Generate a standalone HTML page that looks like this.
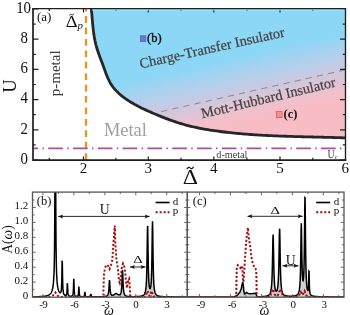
<!DOCTYPE html><html><head><meta charset="utf-8"><style>
html,body{margin:0;padding:0;background:#fff;width:350px;height:315px;overflow:hidden}
svg{display:block;will-change:transform}
text{font-family:"Liberation Serif", serif}
</style></head><body>
<svg width="350" height="315" viewBox="0 0 350 315">
<defs>
<linearGradient id="gr" gradientUnits="userSpaceOnUse" x1="241.16" y1="51.60" x2="257.74" y2="124.72">
<stop offset="0" stop-color="#8cd6f6"/>
<stop offset="0.0667" stop-color="#8cd6f6"/>
<stop offset="0.133" stop-color="#98d4f4"/>
<stop offset="0.347" stop-color="#b4d0ec"/>
<stop offset="0.533" stop-color="#ccc8e2"/>
<stop offset="0.573" stop-color="#d0c8dc"/>
<stop offset="0.8" stop-color="#f0c0cc"/>
<stop offset="0.933" stop-color="#f8bcc4"/>
<stop offset="1" stop-color="#f8bcc4"/>
</linearGradient>
<clipPath id="ca"><rect x="33.0" y="8.6" width="312.5" height="151.6"/></clipPath>
</defs>

<path d="M91.50,6.00 L91.23,8.05 L91.44,10.08 L91.64,12.12 L91.83,14.16 L92.00,16.20 L92.17,18.23 L92.34,20.27 L92.52,22.30 L92.70,24.33 L92.90,26.36 L93.11,28.39 L93.34,30.42 L93.59,32.44 L93.87,34.46 L94.19,36.48 L94.54,38.49 L94.93,40.51 L95.37,42.51 L95.85,44.52 L96.39,46.52 L96.98,48.52 L97.61,50.51 L98.28,52.50 L98.98,54.48 L99.71,56.46 L100.44,58.43 L101.18,60.39 L101.92,62.35 L102.65,64.31 L103.36,66.26 L104.06,68.20 L104.75,70.12 L105.44,72.04 L106.15,73.93 L106.89,75.79 L107.66,77.63 L108.48,79.44 L109.35,81.21 L110.30,82.94 L111.32,84.62 L112.43,86.26 L113.64,87.84 L114.92,89.38 L116.29,90.87 L117.72,92.31 L119.22,93.71 L120.78,95.06 L122.39,96.36 L124.04,97.62 L125.73,98.84 L127.45,100.02 L129.20,101.16 L130.97,102.25 L132.75,103.31 L134.54,104.34 L136.35,105.33 L138.17,106.29 L140.00,107.22 L141.84,108.13 L143.70,109.01 L145.56,109.88 L147.42,110.73 L149.30,111.57 L151.18,112.40 L153.07,113.22 L154.97,114.02 L156.87,114.82 L158.77,115.61 L160.68,116.39 L162.60,117.15 L164.52,117.90 L166.45,118.64 L168.38,119.36 L170.32,120.07 L172.26,120.76 L174.21,121.43 L176.16,122.08 L178.11,122.71 L180.08,123.33 L182.04,123.92 L184.01,124.49 L185.98,125.03 L187.96,125.56 L189.94,126.06 L191.93,126.54 L193.92,127.00 L195.91,127.44 L197.91,127.86 L199.91,128.27 L201.91,128.65 L203.92,129.02 L205.93,129.38 L207.95,129.72 L209.96,130.04 L211.98,130.35 L214.01,130.65 L216.03,130.94 L218.06,131.22 L220.09,131.49 L222.13,131.75 L224.17,132.00 L226.20,132.24 L228.25,132.47 L230.29,132.69 L232.33,132.91 L234.38,133.11 L236.43,133.31 L238.48,133.51 L240.54,133.69 L242.59,133.87 L244.65,134.04 L246.71,134.20 L248.76,134.36 L250.82,134.51 L252.89,134.65 L254.95,134.79 L257.01,134.92 L259.08,135.05 L261.14,135.17 L263.21,135.29 L265.27,135.40 L267.34,135.50 L269.41,135.61 L271.48,135.70 L273.55,135.80 L275.61,135.88 L277.68,135.97 L279.75,136.05 L281.82,136.13 L283.89,136.20 L285.95,136.27 L288.02,136.34 L290.09,136.41 L292.15,136.47 L294.22,136.53 L296.28,136.59 L298.35,136.64 L300.41,136.70 L302.47,136.75 L304.53,136.80 L306.59,136.85 L308.65,136.90 L310.71,136.95 L312.76,137.00 L314.82,137.05 L316.87,137.10 L318.92,137.15 L320.96,137.19 L323.01,137.24 L325.05,137.29 L327.10,137.34 L329.14,137.39 L331.17,137.45 L333.21,137.50 L335.24,137.56 L337.27,137.61 L339.30,137.67 L341.32,137.73 L343.34,137.80 L345.36,137.86 L346.50,137.40 L345.5,8.6 Z" fill="url(#gr)" clip-path="url(#ca)"/>
<line x1="160.7" y1="111.7" x2="345" y2="69.9" stroke="#8a8a8a" stroke-width="1" stroke-dasharray="6.2,5.2" stroke-dashoffset="-0.5"/>
<path d="M91.50,6.00 L91.23,8.05 L91.44,10.08 L91.64,12.12 L91.83,14.16 L92.00,16.20 L92.17,18.23 L92.34,20.27 L92.52,22.30 L92.70,24.33 L92.90,26.36 L93.11,28.39 L93.34,30.42 L93.59,32.44 L93.87,34.46 L94.19,36.48 L94.54,38.49 L94.93,40.51 L95.37,42.51 L95.85,44.52 L96.39,46.52 L96.98,48.52 L97.61,50.51 L98.28,52.50 L98.98,54.48 L99.71,56.46 L100.44,58.43 L101.18,60.39 L101.92,62.35 L102.65,64.31 L103.36,66.26 L104.06,68.20 L104.75,70.12 L105.44,72.04 L106.15,73.93 L106.89,75.79 L107.66,77.63 L108.48,79.44 L109.35,81.21 L110.30,82.94 L111.32,84.62 L112.43,86.26 L113.64,87.84 L114.92,89.38 L116.29,90.87 L117.72,92.31 L119.22,93.71 L120.78,95.06 L122.39,96.36 L124.04,97.62 L125.73,98.84 L127.45,100.02 L129.20,101.16 L130.97,102.25 L132.75,103.31 L134.54,104.34 L136.35,105.33 L138.17,106.29 L140.00,107.22 L141.84,108.13 L143.70,109.01 L145.56,109.88 L147.42,110.73 L149.30,111.57 L151.18,112.40 L153.07,113.22 L154.97,114.02 L156.87,114.82 L158.77,115.61 L160.68,116.39 L162.60,117.15 L164.52,117.90 L166.45,118.64 L168.38,119.36 L170.32,120.07 L172.26,120.76 L174.21,121.43 L176.16,122.08 L178.11,122.71 L180.08,123.33 L182.04,123.92 L184.01,124.49 L185.98,125.03 L187.96,125.56 L189.94,126.06 L191.93,126.54 L193.92,127.00 L195.91,127.44 L197.91,127.86 L199.91,128.27 L201.91,128.65 L203.92,129.02 L205.93,129.38 L207.95,129.72 L209.96,130.04 L211.98,130.35 L214.01,130.65 L216.03,130.94 L218.06,131.22 L220.09,131.49 L222.13,131.75 L224.17,132.00 L226.20,132.24 L228.25,132.47 L230.29,132.69 L232.33,132.91 L234.38,133.11 L236.43,133.31 L238.48,133.51 L240.54,133.69 L242.59,133.87 L244.65,134.04 L246.71,134.20 L248.76,134.36 L250.82,134.51 L252.89,134.65 L254.95,134.79 L257.01,134.92 L259.08,135.05 L261.14,135.17 L263.21,135.29 L265.27,135.40 L267.34,135.50 L269.41,135.61 L271.48,135.70 L273.55,135.80 L275.61,135.88 L277.68,135.97 L279.75,136.05 L281.82,136.13 L283.89,136.20 L285.95,136.27 L288.02,136.34 L290.09,136.41 L292.15,136.47 L294.22,136.53 L296.28,136.59 L298.35,136.64 L300.41,136.70 L302.47,136.75 L304.53,136.80 L306.59,136.85 L308.65,136.90 L310.71,136.95 L312.76,137.00 L314.82,137.05 L316.87,137.10 L318.92,137.15 L320.96,137.19 L323.01,137.24 L325.05,137.29 L327.10,137.34 L329.14,137.39 L331.17,137.45 L333.21,137.50 L335.24,137.56 L337.27,137.61 L339.30,137.67 L341.32,137.73 L343.34,137.80 L345.36,137.86 L346.50,137.40" fill="none" stroke="#262626" stroke-width="2.8" clip-path="url(#ca)"/>
<line x1="86" y1="8.6" x2="86" y2="160.2" stroke="#e8961c" stroke-width="2.3" stroke-dasharray="6.8,4.62" stroke-dashoffset="3.9"/>
<line x1="33.5" y1="148.3" x2="344.5" y2="148.3" stroke="#b04ca8" stroke-width="1.8" stroke-dasharray="14.7,4.3,1.5,4.3" stroke-dashoffset="10.1"/>
<path d="M49.30,160.2v-2.4M49.30,8.6v2.4M83.50,160.2v-3.8M83.50,8.6v3.8M115.90,160.2v-2.4M115.90,8.6v2.4M148.30,160.2v-3.8M148.30,8.6v3.8M181.00,160.2v-2.4M181.00,8.6v2.4M213.80,160.2v-3.8M213.80,8.6v3.8M246.90,160.2v-2.4M246.90,8.6v2.4M280.00,160.2v-3.8M280.00,8.6v3.8M312.80,160.2v-2.4M312.80,8.6v2.4M33.0,160.00h5.5M345.5,160.00h-5.5M33.0,144.90h2.7M345.5,144.90h-2.7M33.0,129.80h5.5M345.5,129.80h-5.5M33.0,114.70h2.7M345.5,114.70h-2.7M33.0,99.60h5.5M345.5,99.60h-5.5M33.0,84.50h2.7M345.5,84.50h-2.7M33.0,69.40h5.5M345.5,69.40h-5.5M33.0,54.30h2.7M345.5,54.30h-2.7M33.0,39.20h5.5M345.5,39.20h-5.5M33.0,24.10h2.7M345.5,24.10h-2.7M33.0,9.00h5.5M345.5,9.00h-5.5" stroke="#222" stroke-width="1.2" fill="none"/>
<line x1="92" y1="9.9" x2="344.8" y2="9.9" stroke="#a4e8fc" stroke-width="1.1"/>
<path d="M33.0,8.0 V160.2 H346.3" fill="none" stroke="#1e1e1e" stroke-width="1.7"/>
<path d="M32.2,8.6 H345.5 V160.2" fill="none" stroke="#1e1e1e" stroke-width="1.35"/>
<text x="24.3" y="163.80" font-size="16" text-anchor="middle" fill="#111" transform="translate(24.3,0) scale(0.93,1) translate(-24.3,0)">0</text>
<text x="24.3" y="133.60" font-size="16" text-anchor="middle" fill="#111" transform="translate(24.3,0) scale(0.93,1) translate(-24.3,0)">2</text>
<text x="24.3" y="103.40" font-size="16" text-anchor="middle" fill="#111" transform="translate(24.3,0) scale(0.93,1) translate(-24.3,0)">4</text>
<text x="24.3" y="73.20" font-size="16" text-anchor="middle" fill="#111" transform="translate(24.3,0) scale(0.93,1) translate(-24.3,0)">6</text>
<text x="24.3" y="43.00" font-size="16" text-anchor="middle" fill="#111" transform="translate(24.3,0) scale(0.93,1) translate(-24.3,0)">8</text>
<text x="23.6" y="12.80" font-size="16" text-anchor="middle" fill="#111" transform="translate(23.6,0) scale(0.93,1) translate(-23.6,0)">10</text>
<text x="83.50" y="173.4" font-size="15" text-anchor="middle" fill="#111">2</text>
<text x="148.30" y="173.4" font-size="15" text-anchor="middle" fill="#111">3</text>
<text x="213.80" y="173.4" font-size="15" text-anchor="middle" fill="#111">4</text>
<text x="280.00" y="173.4" font-size="15" text-anchor="middle" fill="#111">5</text>
<text x="345.20" y="173.4" font-size="15" text-anchor="middle" fill="#111">6</text>
<text transform="translate(15.9,86.1) rotate(-90)" font-size="18.5" text-anchor="middle" fill="#111">U</text>
<text transform="translate(190.3,183.8) scale(1.19,1)" font-size="20" text-anchor="middle" fill="#111">&#916;</text>
<path d="M186.8,169.2 c1.2,-2.2 2.6,-2.2 3.4,-1.2 c0.8,1 2.2,1 3.4,-1.2" stroke="#111" stroke-width="1.1" fill="none"/>
<text x="37" y="21" font-size="13" fill="#111">(a)</text>
<text transform="translate(71.75,26.7) scale(1.1,1)" font-size="16.8" text-anchor="middle" fill="#111">&#916;</text>
<path d="M69.3,15.4 q1.1,-1.7 2.3,-0.7 q1.2,0.9 2.3,-0.8" stroke="#111" stroke-width="0.9" fill="none"/>
<text x="77.5" y="28.9" font-size="11" font-style="italic" fill="#111">p</text>
<text transform="translate(60,73.3) rotate(-90)" font-size="15" text-anchor="middle" fill="#3a3a3a">p-metal</text>
<rect x="140.4" y="35.8" width="5.4" height="5.6" fill="#7078cc" stroke="#5058b4" stroke-width="0.7"/>
<text x="147" y="42.2" font-size="12.5" fill="#111" stroke="#111" stroke-width="0.35">(b)</text>
<rect x="276.3" y="111.4" width="5.8" height="6" fill="#f39094" stroke="#e05a62" stroke-width="0.8"/>
<text x="283.5" y="118.2" font-size="12.5" font-weight="bold" fill="#111">(c)</text>
<text transform="translate(140.8,68.4) rotate(-12.5)" font-size="14.3" fill="#433f3f" stroke="#433f3f" stroke-width="0.2">Charge-Transfer Insulator</text>
<text transform="translate(202.3,118.3) rotate(-13.4)" font-size="14.4" fill="#433f3f" stroke="#433f3f" stroke-width="0.2">Mott-Hubbard Insulator</text>
<text x="104" y="135.6" font-size="18.4" fill="#a0a0a0">Metal</text>
<text x="216.3" y="157.8" font-size="10.2" fill="#3a3a3a">d-metal</text>
<text transform="translate(327.6,157.9) scale(0.82,1)" font-size="12" fill="#3a3a3a">U</text>
<text x="334.8" y="159.4" font-size="6.5" font-style="italic" fill="#3a3a3a">c</text>
<clipPath id="cb"><rect x="32.5" y="192.1" width="154.8" height="105.1"/></clipPath>
<clipPath id="cc"><rect x="187.3" y="192.1" width="156.7" height="105.1"/></clipPath>
<g clip-path="url(#cb)">
<clipPath id="cbf"><rect x="96" y="192.1" width="91.30000000000001" height="105.1"/></clipPath>
<path d="M32.50,296.81 L32.70,296.81 L32.90,296.81 L33.10,296.80 L33.30,296.80 L33.50,296.79 L33.70,296.79 L33.90,296.79 L34.10,296.78 L34.30,296.78 L34.50,296.78 L34.70,296.77 L34.90,296.77 L35.10,296.76 L35.30,296.76 L35.50,296.75 L35.70,296.75 L35.90,296.74 L36.10,296.74 L36.30,296.73 L36.50,296.73 L36.70,296.72 L36.90,296.72 L37.10,296.71 L37.30,296.70 L37.50,296.70 L37.70,296.69 L37.90,296.69 L38.10,296.68 L38.30,296.67 L38.50,296.66 L38.70,296.66 L38.90,296.65 L39.10,296.64 L39.30,296.63 L39.50,296.62 L39.70,296.61 L39.90,296.60 L40.10,296.59 L40.30,296.58 L40.50,296.57 L40.70,296.56 L40.90,296.55 L41.10,296.54 L41.30,296.52 L41.50,296.51 L41.70,296.50 L41.90,296.48 L42.10,296.47 L42.30,296.45 L42.50,296.44 L42.70,296.42 L42.90,296.40 L43.10,296.38 L43.30,296.36 L43.50,296.34 L43.70,296.32 L43.90,296.30 L44.10,296.27 L44.30,296.25 L44.50,296.22 L44.70,296.20 L44.90,296.17 L45.10,296.14 L45.30,296.10 L45.50,296.07 L45.70,296.03 L45.90,295.99 L46.10,295.95 L46.30,295.91 L46.50,295.86 L46.70,295.81 L46.90,295.76 L47.10,295.70 L47.30,295.64 L47.50,295.58 L47.70,295.51 L47.90,295.43 L48.10,295.35 L48.30,295.27 L48.50,295.17 L48.70,295.07 L48.90,294.96 L49.10,294.84 L49.30,294.71 L49.50,294.57 L49.70,294.42 L49.90,294.25 L50.10,294.06 L50.30,293.86 L50.50,293.63 L50.70,293.38 L50.90,293.10 L51.10,292.79 L51.30,292.44 L51.50,292.04 L51.70,291.60 L51.90,291.09 L52.10,290.51 L52.30,289.83 L52.50,289.05 L52.70,288.14 L52.90,287.05 L53.10,285.73 L53.30,284.11 L53.50,282.06 L53.70,279.38 L53.90,275.76 L54.10,270.60 L54.30,262.77 L54.50,249.98 L54.70,227.19 L54.90,183.64 L55.10,106.35 L55.30,47.00 L55.50,106.34 L55.70,183.62 L55.90,227.16 L56.10,249.93 L56.30,262.71 L56.50,270.52 L56.70,275.67 L56.90,279.28 L57.10,281.93 L57.30,283.97 L57.50,285.57 L57.70,286.87 L57.90,287.93 L58.10,288.82 L58.30,289.57 L58.50,290.21 L58.70,290.75 L58.90,291.21 L59.10,291.60 L59.30,291.93 L59.50,292.19 L59.70,292.41 L59.90,292.56 L60.10,292.65 L60.30,292.66 L60.50,292.57 L60.70,292.36 L60.90,291.94 L61.10,291.20 L61.30,289.90 L61.50,287.52 L61.70,282.94 L61.90,274.01 L62.10,261.41 L62.30,261.50 L62.50,274.28 L62.70,283.38 L62.90,288.15 L63.10,290.72 L63.30,292.21 L63.50,293.15 L63.70,293.78 L63.90,294.22 L64.10,294.55 L64.30,294.79 L64.50,294.97 L64.70,295.11 L64.90,295.22 L65.10,295.30 L65.30,295.35 L65.50,295.38 L65.70,295.37 L65.90,295.33 L66.10,295.22 L66.30,295.02 L66.50,294.65 L66.70,293.94 L66.90,292.49 L67.10,289.34 L67.30,283.94 L67.50,283.97 L67.70,289.42 L67.90,292.64 L68.10,294.15 L68.30,294.91 L68.50,295.35 L68.70,295.62 L68.90,295.80 L69.10,295.92 L69.30,296.01 L69.50,296.08 L69.70,296.13 L69.90,296.17 L70.10,296.20 L70.30,296.22 L70.50,296.23 L70.70,296.24 L70.90,296.23 L71.10,296.22 L71.30,296.20 L71.50,296.17 L71.70,296.13 L71.90,296.06 L72.10,295.96 L72.30,295.81 L72.50,295.59 L72.70,295.25 L72.90,294.67 L73.10,293.62 L73.30,291.54 L73.50,287.05 L73.70,279.41 L73.90,279.41 L74.10,287.06 L74.30,291.56 L74.50,293.66 L74.70,294.71 L74.90,295.30 L75.10,295.66 L75.30,295.89 L75.50,296.05 L75.70,296.15 L75.90,296.23 L76.10,296.28 L76.30,296.32 L76.50,296.34 L76.70,296.34 L76.90,296.33 L77.10,296.31 L77.30,296.26 L77.50,296.17 L77.70,296.04 L77.90,295.81 L78.10,295.41 L78.30,294.63 L78.50,293.01 L78.70,289.63 L78.90,286.50 L79.10,289.65 L79.30,293.04 L79.50,294.68 L79.70,295.47 L79.90,295.89 L80.10,296.13 L80.30,296.29 L80.50,296.39 L80.70,296.46 L80.90,296.52 L81.10,296.56 L81.30,296.59 L81.50,296.61 L81.70,296.63 L81.90,296.64 L82.10,296.65 L82.30,296.65 L82.50,296.65 L82.70,296.65 L82.90,296.64 L83.10,296.62 L83.30,296.59 L83.50,296.55 L83.70,296.48 L83.90,296.37 L84.10,296.17 L84.30,295.80 L84.50,295.02 L84.70,293.40 L84.90,291.90 L85.10,293.41 L85.30,295.04 L85.50,295.82 L85.70,296.20 L85.90,296.40 L86.10,296.52 L86.30,296.59 L86.50,296.64 L86.70,296.67 L86.90,296.70 L87.10,296.72 L87.30,296.73 L87.50,296.74 L87.70,296.75 L87.90,296.75 L88.10,296.76 L88.30,296.76 L88.50,296.76 L88.70,296.75 L88.90,296.75 L89.10,296.73 L89.30,296.72 L89.50,296.69 L89.70,296.65 L89.90,296.59 L90.10,296.47 L90.30,296.26 L90.50,295.81 L90.70,294.87 L90.90,294.00 L91.10,294.87 L91.30,295.81 L91.50,296.27 L91.70,296.48 L91.90,296.60 L92.10,296.67 L92.30,296.71 L92.50,296.74 L92.70,296.76 L92.90,296.77 L93.10,296.78 L93.30,296.79 L93.50,296.80 L93.70,296.80 L93.90,296.80 L94.10,296.81 L94.30,296.81 L94.50,296.81 L94.70,296.81 L94.90,296.81 L95.10,296.82 L95.30,296.82 L95.50,296.82 L95.70,296.82 L95.90,296.82 L96.10,296.81 L96.30,296.81 L96.50,296.81 L96.70,296.81 L96.90,296.81 L97.10,296.81 L97.30,296.81 L97.50,296.81 L97.70,296.81 L97.90,296.80 L98.10,296.80 L98.30,296.80 L98.50,296.80 L98.70,296.80 L98.90,296.79 L99.10,296.79 L99.30,296.79 L99.50,296.78 L99.70,296.78 L99.90,296.78 L100.10,296.77 L100.30,296.77 L100.50,296.76 L100.70,296.76 L100.90,296.75 L101.10,296.75 L101.30,296.74 L101.50,296.74 L101.70,296.73 L101.90,296.72 L102.10,296.72 L102.30,296.71 L102.50,296.70 L102.70,296.69 L102.90,296.68 L103.10,296.67 L103.30,296.66 L103.50,296.65 L103.70,296.63 L103.90,296.62 L104.10,296.60 L104.30,296.59 L104.50,296.57 L104.70,296.54 L104.90,296.52 L105.10,296.49 L105.30,296.46 L105.50,296.43 L105.70,296.39 L105.90,296.35 L106.10,296.29 L106.30,296.23 L106.50,296.16 L106.70,296.08 L106.90,295.97 L107.10,295.85 L107.30,295.69 L107.50,295.49 L107.70,295.23 L107.90,294.88 L108.10,294.41 L108.30,293.74 L108.50,292.75 L108.70,291.27 L108.90,289.02 L109.10,285.75 L109.30,281.95 L109.50,280.00 L109.70,281.90 L109.90,285.66 L110.10,288.88 L110.30,291.09 L110.50,292.52 L110.70,293.45 L110.90,294.07 L111.10,294.50 L111.30,294.78 L111.50,294.98 L111.70,295.12 L111.90,295.21 L112.10,295.26 L112.30,295.29 L112.50,295.28 L112.70,295.26 L112.90,295.22 L113.10,295.17 L113.30,295.09 L113.50,295.01 L113.70,294.90 L113.90,294.79 L114.10,294.66 L114.30,294.52 L114.50,294.38 L114.70,294.23 L114.90,294.08 L115.10,293.94 L115.30,293.81 L115.50,293.71 L115.70,293.63 L115.90,293.59 L116.10,293.59 L116.30,293.61 L116.50,293.68 L116.70,293.77 L116.90,293.88 L117.10,294.00 L117.30,294.13 L117.50,294.26 L117.70,294.39 L117.90,294.51 L118.10,294.61 L118.30,294.70 L118.50,294.78 L118.70,294.83 L118.90,294.87 L119.10,294.88 L119.30,294.87 L119.50,294.84 L119.70,294.77 L119.90,294.66 L120.10,294.50 L120.30,294.28 L120.50,293.98 L120.70,293.56 L120.90,292.99 L121.10,292.18 L121.30,291.03 L121.50,289.35 L121.70,286.86 L121.90,283.17 L122.10,278.11 L122.30,272.63 L122.50,270.00 L122.70,272.67 L122.90,278.19 L123.10,283.30 L123.30,287.02 L123.50,289.56 L123.70,291.29 L123.90,292.49 L124.10,293.35 L124.30,293.98 L124.50,294.45 L124.70,294.81 L124.90,295.09 L125.10,295.32 L125.30,295.51 L125.50,295.66 L125.70,295.78 L125.90,295.89 L126.10,295.98 L126.30,296.05 L126.50,296.12 L126.70,296.18 L126.90,296.23 L127.10,296.27 L127.30,296.31 L127.50,296.35 L127.70,296.38 L127.90,296.41 L128.10,296.43 L128.30,296.45 L128.50,296.47 L128.70,296.49 L128.90,296.51 L129.10,296.52 L129.30,296.53 L129.50,296.55 L129.70,296.56 L129.90,296.57 L130.10,296.58 L130.30,296.59 L130.50,296.59 L130.70,296.60 L130.90,296.61 L131.10,296.61 L131.30,296.61 L131.50,296.62 L131.70,296.62 L131.90,296.63 L132.10,296.63 L132.30,296.63 L132.50,296.63 L132.70,296.63 L132.90,296.63 L133.10,296.63 L133.30,296.63 L133.50,296.63 L133.70,296.63 L133.90,296.63 L134.10,296.63 L134.30,296.63 L134.50,296.62 L134.70,296.62 L134.90,296.62 L135.10,296.61 L135.30,296.61 L135.50,296.60 L135.70,296.60 L135.90,296.59 L136.10,296.59 L136.30,296.58 L136.50,296.57 L136.70,296.57 L136.90,296.56 L137.10,296.55 L137.30,296.54 L137.50,296.53 L137.70,296.52 L137.90,296.50 L138.10,296.49 L138.30,296.48 L138.50,296.46 L138.70,296.44 L138.90,296.43 L139.10,296.41 L139.30,296.39 L139.50,296.37 L139.70,296.34 L139.90,296.32 L140.10,296.29 L140.30,296.26 L140.50,296.23 L140.70,296.20 L140.90,296.16 L141.10,296.12 L141.30,296.07 L141.50,296.02 L141.70,295.97 L141.90,295.91 L142.10,295.85 L142.30,295.77 L142.50,295.69 L142.70,295.60 L142.90,295.50 L143.10,295.39 L143.30,295.26 L143.50,295.12 L143.70,294.95 L143.90,294.76 L144.10,294.53 L144.30,294.27 L144.50,293.96 L144.70,293.59 L144.90,293.14 L145.10,292.59 L145.30,291.90 L145.50,291.04 L145.70,289.93 L145.90,288.46 L146.10,286.50 L146.30,283.78 L146.50,279.92 L146.70,274.30 L146.90,266.01 L147.10,254.11 L147.30,239.13 L147.50,226.76 L147.70,226.67 L147.90,238.86 L148.10,253.66 L148.30,265.37 L148.50,273.45 L148.70,278.85 L148.90,282.46 L149.10,284.90 L149.30,286.55 L149.50,287.64 L149.70,288.32 L149.90,288.66 L150.10,288.70 L150.30,288.45 L150.50,287.88 L150.70,286.93 L150.90,285.49 L151.10,283.35 L151.30,280.22 L151.50,275.57 L151.70,268.61 L151.90,258.30 L152.10,244.07 L152.30,228.67 L152.50,221.30 L152.70,228.84 L152.90,244.41 L153.10,258.82 L153.30,269.32 L153.50,276.49 L153.70,281.36 L153.90,284.75 L154.10,287.17 L154.30,288.94 L154.50,290.27 L154.70,291.30 L154.90,292.10 L155.10,292.74 L155.30,293.26 L155.50,293.69 L155.70,294.05 L155.90,294.34 L156.10,294.60 L156.30,294.82 L156.50,295.00 L156.70,295.17 L156.90,295.31 L157.10,295.44 L157.30,295.55 L157.50,295.65 L157.70,295.74 L157.90,295.82 L158.10,295.89 L158.30,295.96 L158.50,296.02 L158.70,296.07 L158.90,296.12 L159.10,296.17 L159.30,296.21 L159.50,296.25 L159.70,296.28 L159.90,296.32 L160.10,296.35 L160.30,296.38 L160.50,296.40 L160.70,296.43 L160.90,296.45 L161.10,296.47 L161.30,296.49 L161.50,296.51 L161.70,296.53 L161.90,296.55 L162.10,296.56 L162.30,296.58 L162.50,296.59 L162.70,296.61 L162.90,296.62 L163.10,296.63 L163.30,296.64 L163.50,296.65 L163.70,296.66 L163.90,296.67 L164.10,296.68 L164.30,296.69 L164.50,296.70 L164.70,296.71 L164.90,296.72 L165.10,296.72 L165.30,296.73 L165.50,296.74 L165.70,296.75 L165.90,296.75 L166.10,296.76 L166.30,296.76 L166.50,296.77 L166.70,296.78 L166.90,296.78 L167.10,296.79 L167.30,296.79 L167.50,296.79 L167.70,296.80 L167.90,296.80 L168.10,296.81 L168.30,296.81 L168.50,296.82 L168.70,296.82 L168.90,296.82 L169.10,296.83 L169.30,296.83 L169.50,296.83 L169.70,296.84 L169.90,296.84 L170.10,296.84 L170.30,296.85 L170.50,296.85 L170.70,296.85 L170.90,296.85 L171.10,296.86 L171.30,296.86 L171.50,296.86 L171.70,296.86 L171.90,296.87 L172.10,296.87 L172.30,296.87 L172.50,296.87 L172.70,296.88 L172.90,296.88 L173.10,296.88 L173.30,296.88 L173.50,296.88 L173.70,296.89 L173.90,296.89 L174.10,296.89 L174.30,296.89 L174.50,296.89 L174.70,296.89 L174.90,296.90 L175.10,296.90 L175.30,296.90 L175.50,296.90 L175.70,296.90 L175.90,296.90 L176.10,296.90 L176.30,296.91 L176.50,296.91 L176.70,296.91 L176.90,296.91 L177.10,296.91 L177.30,296.91 L177.50,296.91 L177.70,296.91 L177.90,296.91 L178.10,296.92 L178.30,296.92 L178.50,296.92 L178.70,296.92 L178.90,296.92 L179.10,296.92 L179.30,296.92 L179.50,296.92 L179.70,296.92 L179.90,296.92 L180.10,296.93 L180.30,296.93 L180.50,296.93 L180.70,296.93 L180.90,296.93 L181.10,296.93 L181.30,296.93 L181.50,296.93 L181.70,296.93 L181.90,296.93 L182.10,296.93 L182.30,296.93 L182.50,296.94 L182.70,296.94 L182.90,296.94 L183.10,296.94 L183.30,296.94 L183.50,296.94 L183.70,296.94 L183.90,296.94 L184.10,296.94 L184.30,296.94 L184.50,296.94 L184.70,296.94 L184.90,296.94 L185.10,296.94 L185.30,296.94 L185.50,296.94 L185.70,296.94 L185.90,296.95 L186.10,296.95 L186.30,296.95 L186.50,296.95 L186.70,296.95 L186.90,296.95 L187.10,296.95 L187.30,296.95 L187.3,297 L32.5,297 Z" fill="#d0d0d0" stroke="none" clip-path="url(#cbf)"/>
<path d="M32.50,296.81 L32.70,296.81 L32.90,296.81 L33.10,296.80 L33.30,296.80 L33.50,296.79 L33.70,296.79 L33.90,296.79 L34.10,296.78 L34.30,296.78 L34.50,296.78 L34.70,296.77 L34.90,296.77 L35.10,296.76 L35.30,296.76 L35.50,296.75 L35.70,296.75 L35.90,296.74 L36.10,296.74 L36.30,296.73 L36.50,296.73 L36.70,296.72 L36.90,296.72 L37.10,296.71 L37.30,296.70 L37.50,296.70 L37.70,296.69 L37.90,296.69 L38.10,296.68 L38.30,296.67 L38.50,296.66 L38.70,296.66 L38.90,296.65 L39.10,296.64 L39.30,296.63 L39.50,296.62 L39.70,296.61 L39.90,296.60 L40.10,296.59 L40.30,296.58 L40.50,296.57 L40.70,296.56 L40.90,296.55 L41.10,296.54 L41.30,296.52 L41.50,296.51 L41.70,296.50 L41.90,296.48 L42.10,296.47 L42.30,296.45 L42.50,296.44 L42.70,296.42 L42.90,296.40 L43.10,296.38 L43.30,296.36 L43.50,296.34 L43.70,296.32 L43.90,296.30 L44.10,296.27 L44.30,296.25 L44.50,296.22 L44.70,296.20 L44.90,296.17 L45.10,296.14 L45.30,296.10 L45.50,296.07 L45.70,296.03 L45.90,295.99 L46.10,295.95 L46.30,295.91 L46.50,295.86 L46.70,295.81 L46.90,295.76 L47.10,295.70 L47.30,295.64 L47.50,295.58 L47.70,295.51 L47.90,295.43 L48.10,295.35 L48.30,295.27 L48.50,295.17 L48.70,295.07 L48.90,294.96 L49.10,294.84 L49.30,294.71 L49.50,294.57 L49.70,294.42 L49.90,294.25 L50.10,294.06 L50.30,293.86 L50.50,293.63 L50.70,293.38 L50.90,293.10 L51.10,292.79 L51.30,292.44 L51.50,292.04 L51.70,291.60 L51.90,291.09 L52.10,290.51 L52.30,289.83 L52.50,289.05 L52.70,288.14 L52.90,287.05 L53.10,285.73 L53.30,284.11 L53.50,282.06 L53.70,279.38 L53.90,275.76 L54.10,270.60 L54.30,262.77 L54.50,249.98 L54.70,227.19 L54.90,183.64 L55.10,106.35 L55.30,47.00 L55.50,106.34 L55.70,183.62 L55.90,227.16 L56.10,249.93 L56.30,262.71 L56.50,270.52 L56.70,275.67 L56.90,279.28 L57.10,281.93 L57.30,283.97 L57.50,285.57 L57.70,286.87 L57.90,287.93 L58.10,288.82 L58.30,289.57 L58.50,290.21 L58.70,290.75 L58.90,291.21 L59.10,291.60 L59.30,291.93 L59.50,292.19 L59.70,292.41 L59.90,292.56 L60.10,292.65 L60.30,292.66 L60.50,292.57 L60.70,292.36 L60.90,291.94 L61.10,291.20 L61.30,289.90 L61.50,287.52 L61.70,282.94 L61.90,274.01 L62.10,261.41 L62.30,261.50 L62.50,274.28 L62.70,283.38 L62.90,288.15 L63.10,290.72 L63.30,292.21 L63.50,293.15 L63.70,293.78 L63.90,294.22 L64.10,294.55 L64.30,294.79 L64.50,294.97 L64.70,295.11 L64.90,295.22 L65.10,295.30 L65.30,295.35 L65.50,295.38 L65.70,295.37 L65.90,295.33 L66.10,295.22 L66.30,295.02 L66.50,294.65 L66.70,293.94 L66.90,292.49 L67.10,289.34 L67.30,283.94 L67.50,283.97 L67.70,289.42 L67.90,292.64 L68.10,294.15 L68.30,294.91 L68.50,295.35 L68.70,295.62 L68.90,295.80 L69.10,295.92 L69.30,296.01 L69.50,296.08 L69.70,296.13 L69.90,296.17 L70.10,296.20 L70.30,296.22 L70.50,296.23 L70.70,296.24 L70.90,296.23 L71.10,296.22 L71.30,296.20 L71.50,296.17 L71.70,296.13 L71.90,296.06 L72.10,295.96 L72.30,295.81 L72.50,295.59 L72.70,295.25 L72.90,294.67 L73.10,293.62 L73.30,291.54 L73.50,287.05 L73.70,279.41 L73.90,279.41 L74.10,287.06 L74.30,291.56 L74.50,293.66 L74.70,294.71 L74.90,295.30 L75.10,295.66 L75.30,295.89 L75.50,296.05 L75.70,296.15 L75.90,296.23 L76.10,296.28 L76.30,296.32 L76.50,296.34 L76.70,296.34 L76.90,296.33 L77.10,296.31 L77.30,296.26 L77.50,296.17 L77.70,296.04 L77.90,295.81 L78.10,295.41 L78.30,294.63 L78.50,293.01 L78.70,289.63 L78.90,286.50 L79.10,289.65 L79.30,293.04 L79.50,294.68 L79.70,295.47 L79.90,295.89 L80.10,296.13 L80.30,296.29 L80.50,296.39 L80.70,296.46 L80.90,296.52 L81.10,296.56 L81.30,296.59 L81.50,296.61 L81.70,296.63 L81.90,296.64 L82.10,296.65 L82.30,296.65 L82.50,296.65 L82.70,296.65 L82.90,296.64 L83.10,296.62 L83.30,296.59 L83.50,296.55 L83.70,296.48 L83.90,296.37 L84.10,296.17 L84.30,295.80 L84.50,295.02 L84.70,293.40 L84.90,291.90 L85.10,293.41 L85.30,295.04 L85.50,295.82 L85.70,296.20 L85.90,296.40 L86.10,296.52 L86.30,296.59 L86.50,296.64 L86.70,296.67 L86.90,296.70 L87.10,296.72 L87.30,296.73 L87.50,296.74 L87.70,296.75 L87.90,296.75 L88.10,296.76 L88.30,296.76 L88.50,296.76 L88.70,296.75 L88.90,296.75 L89.10,296.73 L89.30,296.72 L89.50,296.69 L89.70,296.65 L89.90,296.59 L90.10,296.47 L90.30,296.26 L90.50,295.81 L90.70,294.87 L90.90,294.00 L91.10,294.87 L91.30,295.81 L91.50,296.27 L91.70,296.48 L91.90,296.60 L92.10,296.67 L92.30,296.71 L92.50,296.74 L92.70,296.76 L92.90,296.77 L93.10,296.78 L93.30,296.79 L93.50,296.80 L93.70,296.80 L93.90,296.80 L94.10,296.81 L94.30,296.81 L94.50,296.81 L94.70,296.81 L94.90,296.81 L95.10,296.82 L95.30,296.82 L95.50,296.82 L95.70,296.82 L95.90,296.82 L96.10,296.81 L96.30,296.81 L96.50,296.81 L96.70,296.81 L96.90,296.81 L97.10,296.81 L97.30,296.81 L97.50,296.81 L97.70,296.81 L97.90,296.80 L98.10,296.80 L98.30,296.80 L98.50,296.80 L98.70,296.80 L98.90,296.79 L99.10,296.79 L99.30,296.79 L99.50,296.78 L99.70,296.78 L99.90,296.78 L100.10,296.77 L100.30,296.77 L100.50,296.76 L100.70,296.76 L100.90,296.75 L101.10,296.75 L101.30,296.74 L101.50,296.74 L101.70,296.73 L101.90,296.72 L102.10,296.72 L102.30,296.71 L102.50,296.70 L102.70,296.69 L102.90,296.68 L103.10,296.67 L103.30,296.66 L103.50,296.65 L103.70,296.63 L103.90,296.62 L104.10,296.60 L104.30,296.59 L104.50,296.57 L104.70,296.54 L104.90,296.52 L105.10,296.49 L105.30,296.46 L105.50,296.43 L105.70,296.39 L105.90,296.35 L106.10,296.29 L106.30,296.23 L106.50,296.16 L106.70,296.08 L106.90,295.97 L107.10,295.85 L107.30,295.69 L107.50,295.49 L107.70,295.23 L107.90,294.88 L108.10,294.41 L108.30,293.74 L108.50,292.75 L108.70,291.27 L108.90,289.02 L109.10,285.75 L109.30,281.95 L109.50,280.00 L109.70,281.90 L109.90,285.66 L110.10,288.88 L110.30,291.09 L110.50,292.52 L110.70,293.45 L110.90,294.07 L111.10,294.50 L111.30,294.78 L111.50,294.98 L111.70,295.12 L111.90,295.21 L112.10,295.26 L112.30,295.29 L112.50,295.28 L112.70,295.26 L112.90,295.22 L113.10,295.17 L113.30,295.09 L113.50,295.01 L113.70,294.90 L113.90,294.79 L114.10,294.66 L114.30,294.52 L114.50,294.38 L114.70,294.23 L114.90,294.08 L115.10,293.94 L115.30,293.81 L115.50,293.71 L115.70,293.63 L115.90,293.59 L116.10,293.59 L116.30,293.61 L116.50,293.68 L116.70,293.77 L116.90,293.88 L117.10,294.00 L117.30,294.13 L117.50,294.26 L117.70,294.39 L117.90,294.51 L118.10,294.61 L118.30,294.70 L118.50,294.78 L118.70,294.83 L118.90,294.87 L119.10,294.88 L119.30,294.87 L119.50,294.84 L119.70,294.77 L119.90,294.66 L120.10,294.50 L120.30,294.28 L120.50,293.98 L120.70,293.56 L120.90,292.99 L121.10,292.18 L121.30,291.03 L121.50,289.35 L121.70,286.86 L121.90,283.17 L122.10,278.11 L122.30,272.63 L122.50,270.00 L122.70,272.67 L122.90,278.19 L123.10,283.30 L123.30,287.02 L123.50,289.56 L123.70,291.29 L123.90,292.49 L124.10,293.35 L124.30,293.98 L124.50,294.45 L124.70,294.81 L124.90,295.09 L125.10,295.32 L125.30,295.51 L125.50,295.66 L125.70,295.78 L125.90,295.89 L126.10,295.98 L126.30,296.05 L126.50,296.12 L126.70,296.18 L126.90,296.23 L127.10,296.27 L127.30,296.31 L127.50,296.35 L127.70,296.38 L127.90,296.41 L128.10,296.43 L128.30,296.45 L128.50,296.47 L128.70,296.49 L128.90,296.51 L129.10,296.52 L129.30,296.53 L129.50,296.55 L129.70,296.56 L129.90,296.57 L130.10,296.58 L130.30,296.59 L130.50,296.59 L130.70,296.60 L130.90,296.61 L131.10,296.61 L131.30,296.61 L131.50,296.62 L131.70,296.62 L131.90,296.63 L132.10,296.63 L132.30,296.63 L132.50,296.63 L132.70,296.63 L132.90,296.63 L133.10,296.63 L133.30,296.63 L133.50,296.63 L133.70,296.63 L133.90,296.63 L134.10,296.63 L134.30,296.63 L134.50,296.62 L134.70,296.62 L134.90,296.62 L135.10,296.61 L135.30,296.61 L135.50,296.60 L135.70,296.60 L135.90,296.59 L136.10,296.59 L136.30,296.58 L136.50,296.57 L136.70,296.57 L136.90,296.56 L137.10,296.55 L137.30,296.54 L137.50,296.53 L137.70,296.52 L137.90,296.50 L138.10,296.49 L138.30,296.48 L138.50,296.46 L138.70,296.44 L138.90,296.43 L139.10,296.41 L139.30,296.39 L139.50,296.37 L139.70,296.34 L139.90,296.32 L140.10,296.29 L140.30,296.26 L140.50,296.23 L140.70,296.20 L140.90,296.16 L141.10,296.12 L141.30,296.07 L141.50,296.02 L141.70,295.97 L141.90,295.91 L142.10,295.85 L142.30,295.77 L142.50,295.69 L142.70,295.60 L142.90,295.50 L143.10,295.39 L143.30,295.26 L143.50,295.12 L143.70,294.95 L143.90,294.76 L144.10,294.53 L144.30,294.27 L144.50,293.96 L144.70,293.59 L144.90,293.14 L145.10,292.59 L145.30,291.90 L145.50,291.04 L145.70,289.93 L145.90,288.46 L146.10,286.50 L146.30,283.78 L146.50,279.92 L146.70,274.30 L146.90,266.01 L147.10,254.11 L147.30,239.13 L147.50,226.76 L147.70,226.67 L147.90,238.86 L148.10,253.66 L148.30,265.37 L148.50,273.45 L148.70,278.85 L148.90,282.46 L149.10,284.90 L149.30,286.55 L149.50,287.64 L149.70,288.32 L149.90,288.66 L150.10,288.70 L150.30,288.45 L150.50,287.88 L150.70,286.93 L150.90,285.49 L151.10,283.35 L151.30,280.22 L151.50,275.57 L151.70,268.61 L151.90,258.30 L152.10,244.07 L152.30,228.67 L152.50,221.30 L152.70,228.84 L152.90,244.41 L153.10,258.82 L153.30,269.32 L153.50,276.49 L153.70,281.36 L153.90,284.75 L154.10,287.17 L154.30,288.94 L154.50,290.27 L154.70,291.30 L154.90,292.10 L155.10,292.74 L155.30,293.26 L155.50,293.69 L155.70,294.05 L155.90,294.34 L156.10,294.60 L156.30,294.82 L156.50,295.00 L156.70,295.17 L156.90,295.31 L157.10,295.44 L157.30,295.55 L157.50,295.65 L157.70,295.74 L157.90,295.82 L158.10,295.89 L158.30,295.96 L158.50,296.02 L158.70,296.07 L158.90,296.12 L159.10,296.17 L159.30,296.21 L159.50,296.25 L159.70,296.28 L159.90,296.32 L160.10,296.35 L160.30,296.38 L160.50,296.40 L160.70,296.43 L160.90,296.45 L161.10,296.47 L161.30,296.49 L161.50,296.51 L161.70,296.53 L161.90,296.55 L162.10,296.56 L162.30,296.58 L162.50,296.59 L162.70,296.61 L162.90,296.62 L163.10,296.63 L163.30,296.64 L163.50,296.65 L163.70,296.66 L163.90,296.67 L164.10,296.68 L164.30,296.69 L164.50,296.70 L164.70,296.71 L164.90,296.72 L165.10,296.72 L165.30,296.73 L165.50,296.74 L165.70,296.75 L165.90,296.75 L166.10,296.76 L166.30,296.76 L166.50,296.77 L166.70,296.78 L166.90,296.78 L167.10,296.79 L167.30,296.79 L167.50,296.79 L167.70,296.80 L167.90,296.80 L168.10,296.81 L168.30,296.81 L168.50,296.82 L168.70,296.82 L168.90,296.82 L169.10,296.83 L169.30,296.83 L169.50,296.83 L169.70,296.84 L169.90,296.84 L170.10,296.84 L170.30,296.85 L170.50,296.85 L170.70,296.85 L170.90,296.85 L171.10,296.86 L171.30,296.86 L171.50,296.86 L171.70,296.86 L171.90,296.87 L172.10,296.87 L172.30,296.87 L172.50,296.87 L172.70,296.88 L172.90,296.88 L173.10,296.88 L173.30,296.88 L173.50,296.88 L173.70,296.89 L173.90,296.89 L174.10,296.89 L174.30,296.89 L174.50,296.89 L174.70,296.89 L174.90,296.90 L175.10,296.90 L175.30,296.90 L175.50,296.90 L175.70,296.90 L175.90,296.90 L176.10,296.90 L176.30,296.91 L176.50,296.91 L176.70,296.91 L176.90,296.91 L177.10,296.91 L177.30,296.91 L177.50,296.91 L177.70,296.91 L177.90,296.91 L178.10,296.92 L178.30,296.92 L178.50,296.92 L178.70,296.92 L178.90,296.92 L179.10,296.92 L179.30,296.92 L179.50,296.92 L179.70,296.92 L179.90,296.92 L180.10,296.93 L180.30,296.93 L180.50,296.93 L180.70,296.93 L180.90,296.93 L181.10,296.93 L181.30,296.93 L181.50,296.93 L181.70,296.93 L181.90,296.93 L182.10,296.93 L182.30,296.93 L182.50,296.94 L182.70,296.94 L182.90,296.94 L183.10,296.94 L183.30,296.94 L183.50,296.94 L183.70,296.94 L183.90,296.94 L184.10,296.94 L184.30,296.94 L184.50,296.94 L184.70,296.94 L184.90,296.94 L185.10,296.94 L185.30,296.94 L185.50,296.94 L185.70,296.94 L185.90,296.95 L186.10,296.95 L186.30,296.95 L186.50,296.95 L186.70,296.95 L186.90,296.95 L187.10,296.95 L187.30,296.95" fill="none" stroke="#000" stroke-width="1.5"/>
<path d="M32.50,297.00 L50.00,297.00 L53.00,295.50 L55.30,292.50 L57.50,295.50 L60.00,297.00 L103.30,297.00 L103.60,285.00 L104.00,274.00 L105.00,268.00 L106.30,265.20 L107.50,265.00 L108.50,266.50 L109.50,269.00 L110.80,266.00 L112.30,260.00 L113.30,245.40 L114.80,225.70 L115.40,245.40 L116.50,260.00 L117.50,266.50 L118.30,272.00 L119.00,281.00 L119.80,283.00 L120.80,278.00 L121.80,268.00 L123.00,263.60 L124.20,266.00 L125.20,272.00 L125.90,281.00 L127.00,288.00 L128.20,280.00 L129.10,278.60 L129.80,286.00 L130.30,297.00 L145.00,297.00 L147.50,291.00 L149.50,296.00 L151.50,291.00 L153.50,296.50 L156.00,297.00 L187.30,297.00" fill="none" stroke="#a31010" stroke-width="2" stroke-dasharray="2.1,1.9"/>
</g>
<g clip-path="url(#cc)">
<path d="M187.30,297.00 L234.00,297.00 L236.00,296.00 L238.00,294.50 L240.00,292.00 L241.30,288.50 L242.20,284.00 L242.80,282.00 L243.30,285.00 L243.80,291.00 L244.50,294.00 L245.50,293.40 L246.60,292.40 L248.00,293.40 L250.00,293.80 L253.00,293.60 L255.50,293.30 L256.30,294.50 L257.00,296.50 L258.00,297.00 L259.10,296.73 L259.30,296.73 L259.50,296.72 L259.70,296.71 L259.90,296.71 L260.10,296.70 L260.30,296.69 L260.50,296.68 L260.70,296.68 L260.90,296.67 L261.10,296.66 L261.30,296.65 L261.50,296.64 L261.70,296.63 L261.90,296.62 L262.10,296.61 L262.30,296.59 L262.50,296.58 L262.70,296.57 L262.90,296.55 L263.10,296.54 L263.30,296.52 L263.50,296.51 L263.70,296.49 L263.90,296.47 L264.10,296.45 L264.30,296.43 L264.50,296.41 L264.70,296.38 L264.90,296.36 L265.10,296.33 L265.30,296.30 L265.50,296.27 L265.70,296.24 L265.90,296.20 L266.10,296.16 L266.30,296.12 L266.50,296.07 L266.70,296.02 L266.90,295.97 L267.10,295.91 L267.30,295.85 L267.50,295.77 L267.70,295.70 L267.90,295.61 L268.10,295.51 L268.30,295.40 L268.50,295.28 L268.70,295.15 L268.90,294.99 L269.10,294.81 L269.30,294.61 L269.50,294.37 L269.70,294.10 L269.90,293.77 L270.10,293.39 L270.30,292.93 L270.50,292.37 L270.70,291.69 L270.90,290.83 L271.10,289.75 L271.30,288.36 L271.50,286.53 L271.70,284.08 L271.90,280.73 L272.10,276.07 L272.30,269.58 L272.50,260.74 L272.70,249.76 L272.90,239.20 L273.10,234.50 L273.30,239.10 L273.50,249.57 L273.70,260.44 L273.90,269.18 L274.10,275.57 L274.30,280.10 L274.50,283.33 L274.70,285.65 L274.90,287.34 L275.10,288.58 L275.30,289.49 L275.50,290.15 L275.70,290.62 L275.90,290.93 L276.10,291.11 L276.30,291.16 L276.50,291.10 L276.70,290.91 L276.90,290.59 L277.10,290.12 L277.30,289.46 L277.50,288.57 L277.70,287.36 L277.90,285.73 L278.10,283.52 L278.30,280.48 L278.50,276.23 L278.70,270.25 L278.90,261.92 L279.10,250.92 L279.30,238.51 L279.50,229.34 L279.70,229.38 L279.90,238.64 L280.10,251.13 L280.30,262.21 L280.50,270.63 L280.70,276.71 L280.90,281.06 L281.10,284.21 L281.30,286.54 L281.50,288.29 L281.70,289.64 L281.90,290.69 L282.10,291.53 L282.30,292.21 L282.50,292.76 L282.70,293.22 L282.90,293.60 L283.10,293.92 L283.30,294.20 L283.50,294.43 L283.70,294.64 L283.90,294.81 L284.10,294.97 L284.30,295.10 L284.50,295.23 L284.70,295.33 L284.90,295.43 L285.10,295.51 L285.30,295.59 L285.50,295.66 L285.70,295.72 L285.90,295.77 L286.10,295.82 L286.30,295.87 L286.50,295.91 L286.70,295.95 L286.90,295.98 L287.10,296.01 L287.30,296.04 L287.50,296.07 L287.70,296.09 L287.90,296.11 L288.10,296.13 L288.30,296.15 L288.50,296.16 L288.70,296.17 L288.90,296.19 L289.10,296.19 L289.30,296.20 L289.50,296.21 L289.70,296.22 L289.90,296.22 L290.10,296.22 L290.30,296.22 L290.50,296.22 L290.70,296.22 L290.90,296.22 L291.10,296.22 L291.30,296.21 L291.50,296.21 L291.70,296.20 L291.90,296.19 L292.10,296.18 L292.30,296.17 L292.50,296.15 L292.70,296.14 L292.90,296.12 L293.10,296.10 L293.30,296.08 L293.50,296.06 L293.70,296.03 L293.90,296.00 L294.10,295.97 L294.30,295.94 L294.50,295.90 L294.70,295.86 L294.90,295.81 L295.10,295.76 L295.30,295.71 L295.50,295.65 L295.70,295.58 L295.90,295.51 L296.10,295.42 L296.30,295.33 L296.50,295.23 L296.70,295.11 L296.90,294.98 L297.10,294.83 L297.30,294.66 L297.50,294.47 L297.70,294.24 L297.90,293.98 L298.10,293.67 L298.30,293.31 L298.50,292.88 L298.70,292.35 L298.90,291.71 L299.10,290.91 L299.30,289.89 L299.50,288.57 L299.70,286.83 L299.90,284.47 L300.10,281.18 L300.30,276.46 L300.50,269.55 L300.70,259.45 L300.90,245.61 L301.10,230.65 L301.30,223.30 L301.50,230.11 L301.70,244.51 L301.90,257.75 L302.10,267.19 L302.30,273.36 L302.50,277.21 L302.70,279.47 L302.90,280.55 L303.10,280.69 L303.30,279.91 L303.50,278.15 L303.70,275.12 L303.90,270.34 L304.10,262.98 L304.30,251.79 L304.50,235.46 L304.70,214.76 L304.90,197.71 L305.10,197.88 L305.30,215.31 L305.50,236.38 L305.70,253.13 L305.90,264.77 L306.10,272.67 L306.30,278.07 L306.50,281.86 L306.70,284.58 L306.90,286.56 L307.10,288.02 L307.30,289.10 L307.50,289.86 L307.70,290.33 L307.90,290.49 L308.10,290.24 L308.30,289.28 L308.50,286.87 L308.70,281.21 L308.90,271.32 L309.10,271.56 L309.30,281.93 L309.50,288.09 L309.70,291.04 L309.90,292.58 L310.10,293.49 L310.30,294.08 L310.50,294.49 L310.70,294.79 L310.90,295.03 L311.10,295.22 L311.30,295.37 L311.50,295.50 L311.70,295.61 L311.90,295.70 L312.10,295.79 L312.30,295.86 L312.50,295.93 L312.70,295.99 L312.90,296.04 L313.10,296.09 L313.30,296.13 L313.50,296.17 L313.70,296.21 L313.90,296.25 L314.10,296.28 L314.30,296.31 L314.50,296.34 L314.70,296.36 L314.90,296.39 L315.10,296.41 L315.30,296.43 L315.50,296.45 L315.70,296.47 L315.90,296.49 L316.10,296.51 L316.30,296.52 L316.50,296.54 L316.70,296.55 L316.90,296.57 L317.10,296.58 L317.30,296.59 L317.50,296.60 L317.70,296.61 L317.90,296.63 L318.10,296.64 L318.30,296.65 L318.50,296.65 L318.70,296.66 L318.90,296.67 L319.10,296.68 L319.30,296.69 L319.50,296.70 L319.70,296.70 L319.90,296.71 L320.10,296.72 L320.30,296.72 L320.50,296.73 L320.70,296.74 L320.90,296.74 L321.10,296.75 L321.30,296.75 L321.50,296.76 L321.70,296.76 L321.90,296.77 L322.10,296.77 L322.30,296.78 L322.50,296.78 L322.70,296.79 L322.90,296.79 L323.10,296.80 L323.30,296.80 L323.50,296.80 L323.70,296.81 L323.90,296.81 L324.10,296.81 L324.30,296.82 L324.50,296.82 L324.70,296.82 L324.90,296.83 L325.10,296.83 L325.30,296.83 L325.50,296.84 L325.70,296.84 L325.90,296.84 L326.10,296.84 L326.30,296.85 L326.50,296.85 L326.70,296.85 L326.90,296.85 L327.10,296.86 L327.30,296.86 L327.50,296.86 L327.70,296.86 L327.90,296.86 L328.10,296.87 L328.30,296.87 L328.50,296.87 L328.70,296.87 L328.90,296.87 L329.10,296.88 L329.30,296.88 L329.50,296.88 L329.70,296.88 L329.90,296.88 L330.10,296.88 L330.30,296.89 L330.50,296.89 L330.70,296.89 L330.90,296.89 L331.10,296.89 L331.30,296.89 L331.50,296.90 L331.70,296.90 L331.90,296.90 L332.10,296.90 L332.30,296.90 L332.50,296.90 L332.70,296.90 L332.90,296.90 L333.10,296.91 L333.30,296.91 L333.50,296.91 L333.70,296.91 L333.90,296.91 L334.10,296.91 L334.30,296.91 L334.50,296.91 L334.70,296.91 L334.90,296.91 L335.10,296.92 L335.30,296.92 L335.50,296.92 L335.70,296.92 L335.90,296.92 L336.10,296.92 L336.30,296.92 L336.50,296.92 L336.70,296.92 L336.90,296.92 L337.10,296.92 L337.30,296.93 L337.50,296.93 L337.70,296.93 L337.90,296.93 L338.10,296.93 L338.30,296.93 L338.50,296.93 L338.70,296.93 L338.90,296.93 L339.10,296.93 L339.30,296.93 L339.50,296.93 L339.70,296.93 L339.90,296.93 L340.10,296.94 L340.30,296.94 L340.50,296.94 L340.70,296.94 L340.90,296.94 L341.10,296.94 L341.30,296.94 L341.50,296.94 L341.70,296.94 L341.90,296.94 L342.10,296.94 L342.30,296.94 L342.50,296.94 L342.70,296.94 L342.90,296.94 L343.10,296.94 L343.30,296.94 L343.50,296.95 L343.70,296.95 L343.90,296.95 L344,297 L187.3,297 Z" fill="#d0d0d0" stroke="none"/>
<path d="M187.30,297.00 L234.00,297.00 L236.00,296.00 L238.00,294.50 L240.00,292.00 L241.30,288.50 L242.20,284.00 L242.80,282.00 L243.30,285.00 L243.80,291.00 L244.50,294.00 L245.50,293.40 L246.60,292.40 L248.00,293.40 L250.00,293.80 L253.00,293.60 L255.50,293.30 L256.30,294.50 L257.00,296.50 L258.00,297.00 L259.10,296.73 L259.30,296.73 L259.50,296.72 L259.70,296.71 L259.90,296.71 L260.10,296.70 L260.30,296.69 L260.50,296.68 L260.70,296.68 L260.90,296.67 L261.10,296.66 L261.30,296.65 L261.50,296.64 L261.70,296.63 L261.90,296.62 L262.10,296.61 L262.30,296.59 L262.50,296.58 L262.70,296.57 L262.90,296.55 L263.10,296.54 L263.30,296.52 L263.50,296.51 L263.70,296.49 L263.90,296.47 L264.10,296.45 L264.30,296.43 L264.50,296.41 L264.70,296.38 L264.90,296.36 L265.10,296.33 L265.30,296.30 L265.50,296.27 L265.70,296.24 L265.90,296.20 L266.10,296.16 L266.30,296.12 L266.50,296.07 L266.70,296.02 L266.90,295.97 L267.10,295.91 L267.30,295.85 L267.50,295.77 L267.70,295.70 L267.90,295.61 L268.10,295.51 L268.30,295.40 L268.50,295.28 L268.70,295.15 L268.90,294.99 L269.10,294.81 L269.30,294.61 L269.50,294.37 L269.70,294.10 L269.90,293.77 L270.10,293.39 L270.30,292.93 L270.50,292.37 L270.70,291.69 L270.90,290.83 L271.10,289.75 L271.30,288.36 L271.50,286.53 L271.70,284.08 L271.90,280.73 L272.10,276.07 L272.30,269.58 L272.50,260.74 L272.70,249.76 L272.90,239.20 L273.10,234.50 L273.30,239.10 L273.50,249.57 L273.70,260.44 L273.90,269.18 L274.10,275.57 L274.30,280.10 L274.50,283.33 L274.70,285.65 L274.90,287.34 L275.10,288.58 L275.30,289.49 L275.50,290.15 L275.70,290.62 L275.90,290.93 L276.10,291.11 L276.30,291.16 L276.50,291.10 L276.70,290.91 L276.90,290.59 L277.10,290.12 L277.30,289.46 L277.50,288.57 L277.70,287.36 L277.90,285.73 L278.10,283.52 L278.30,280.48 L278.50,276.23 L278.70,270.25 L278.90,261.92 L279.10,250.92 L279.30,238.51 L279.50,229.34 L279.70,229.38 L279.90,238.64 L280.10,251.13 L280.30,262.21 L280.50,270.63 L280.70,276.71 L280.90,281.06 L281.10,284.21 L281.30,286.54 L281.50,288.29 L281.70,289.64 L281.90,290.69 L282.10,291.53 L282.30,292.21 L282.50,292.76 L282.70,293.22 L282.90,293.60 L283.10,293.92 L283.30,294.20 L283.50,294.43 L283.70,294.64 L283.90,294.81 L284.10,294.97 L284.30,295.10 L284.50,295.23 L284.70,295.33 L284.90,295.43 L285.10,295.51 L285.30,295.59 L285.50,295.66 L285.70,295.72 L285.90,295.77 L286.10,295.82 L286.30,295.87 L286.50,295.91 L286.70,295.95 L286.90,295.98 L287.10,296.01 L287.30,296.04 L287.50,296.07 L287.70,296.09 L287.90,296.11 L288.10,296.13 L288.30,296.15 L288.50,296.16 L288.70,296.17 L288.90,296.19 L289.10,296.19 L289.30,296.20 L289.50,296.21 L289.70,296.22 L289.90,296.22 L290.10,296.22 L290.30,296.22 L290.50,296.22 L290.70,296.22 L290.90,296.22 L291.10,296.22 L291.30,296.21 L291.50,296.21 L291.70,296.20 L291.90,296.19 L292.10,296.18 L292.30,296.17 L292.50,296.15 L292.70,296.14 L292.90,296.12 L293.10,296.10 L293.30,296.08 L293.50,296.06 L293.70,296.03 L293.90,296.00 L294.10,295.97 L294.30,295.94 L294.50,295.90 L294.70,295.86 L294.90,295.81 L295.10,295.76 L295.30,295.71 L295.50,295.65 L295.70,295.58 L295.90,295.51 L296.10,295.42 L296.30,295.33 L296.50,295.23 L296.70,295.11 L296.90,294.98 L297.10,294.83 L297.30,294.66 L297.50,294.47 L297.70,294.24 L297.90,293.98 L298.10,293.67 L298.30,293.31 L298.50,292.88 L298.70,292.35 L298.90,291.71 L299.10,290.91 L299.30,289.89 L299.50,288.57 L299.70,286.83 L299.90,284.47 L300.10,281.18 L300.30,276.46 L300.50,269.55 L300.70,259.45 L300.90,245.61 L301.10,230.65 L301.30,223.30 L301.50,230.11 L301.70,244.51 L301.90,257.75 L302.10,267.19 L302.30,273.36 L302.50,277.21 L302.70,279.47 L302.90,280.55 L303.10,280.69 L303.30,279.91 L303.50,278.15 L303.70,275.12 L303.90,270.34 L304.10,262.98 L304.30,251.79 L304.50,235.46 L304.70,214.76 L304.90,197.71 L305.10,197.88 L305.30,215.31 L305.50,236.38 L305.70,253.13 L305.90,264.77 L306.10,272.67 L306.30,278.07 L306.50,281.86 L306.70,284.58 L306.90,286.56 L307.10,288.02 L307.30,289.10 L307.50,289.86 L307.70,290.33 L307.90,290.49 L308.10,290.24 L308.30,289.28 L308.50,286.87 L308.70,281.21 L308.90,271.32 L309.10,271.56 L309.30,281.93 L309.50,288.09 L309.70,291.04 L309.90,292.58 L310.10,293.49 L310.30,294.08 L310.50,294.49 L310.70,294.79 L310.90,295.03 L311.10,295.22 L311.30,295.37 L311.50,295.50 L311.70,295.61 L311.90,295.70 L312.10,295.79 L312.30,295.86 L312.50,295.93 L312.70,295.99 L312.90,296.04 L313.10,296.09 L313.30,296.13 L313.50,296.17 L313.70,296.21 L313.90,296.25 L314.10,296.28 L314.30,296.31 L314.50,296.34 L314.70,296.36 L314.90,296.39 L315.10,296.41 L315.30,296.43 L315.50,296.45 L315.70,296.47 L315.90,296.49 L316.10,296.51 L316.30,296.52 L316.50,296.54 L316.70,296.55 L316.90,296.57 L317.10,296.58 L317.30,296.59 L317.50,296.60 L317.70,296.61 L317.90,296.63 L318.10,296.64 L318.30,296.65 L318.50,296.65 L318.70,296.66 L318.90,296.67 L319.10,296.68 L319.30,296.69 L319.50,296.70 L319.70,296.70 L319.90,296.71 L320.10,296.72 L320.30,296.72 L320.50,296.73 L320.70,296.74 L320.90,296.74 L321.10,296.75 L321.30,296.75 L321.50,296.76 L321.70,296.76 L321.90,296.77 L322.10,296.77 L322.30,296.78 L322.50,296.78 L322.70,296.79 L322.90,296.79 L323.10,296.80 L323.30,296.80 L323.50,296.80 L323.70,296.81 L323.90,296.81 L324.10,296.81 L324.30,296.82 L324.50,296.82 L324.70,296.82 L324.90,296.83 L325.10,296.83 L325.30,296.83 L325.50,296.84 L325.70,296.84 L325.90,296.84 L326.10,296.84 L326.30,296.85 L326.50,296.85 L326.70,296.85 L326.90,296.85 L327.10,296.86 L327.30,296.86 L327.50,296.86 L327.70,296.86 L327.90,296.86 L328.10,296.87 L328.30,296.87 L328.50,296.87 L328.70,296.87 L328.90,296.87 L329.10,296.88 L329.30,296.88 L329.50,296.88 L329.70,296.88 L329.90,296.88 L330.10,296.88 L330.30,296.89 L330.50,296.89 L330.70,296.89 L330.90,296.89 L331.10,296.89 L331.30,296.89 L331.50,296.90 L331.70,296.90 L331.90,296.90 L332.10,296.90 L332.30,296.90 L332.50,296.90 L332.70,296.90 L332.90,296.90 L333.10,296.91 L333.30,296.91 L333.50,296.91 L333.70,296.91 L333.90,296.91 L334.10,296.91 L334.30,296.91 L334.50,296.91 L334.70,296.91 L334.90,296.91 L335.10,296.92 L335.30,296.92 L335.50,296.92 L335.70,296.92 L335.90,296.92 L336.10,296.92 L336.30,296.92 L336.50,296.92 L336.70,296.92 L336.90,296.92 L337.10,296.92 L337.30,296.93 L337.50,296.93 L337.70,296.93 L337.90,296.93 L338.10,296.93 L338.30,296.93 L338.50,296.93 L338.70,296.93 L338.90,296.93 L339.10,296.93 L339.30,296.93 L339.50,296.93 L339.70,296.93 L339.90,296.93 L340.10,296.94 L340.30,296.94 L340.50,296.94 L340.70,296.94 L340.90,296.94 L341.10,296.94 L341.30,296.94 L341.50,296.94 L341.70,296.94 L341.90,296.94 L342.10,296.94 L342.30,296.94 L342.50,296.94 L342.70,296.94 L342.90,296.94 L343.10,296.94 L343.30,296.94 L343.50,296.95 L343.70,296.95 L343.90,296.95" fill="none" stroke="#000" stroke-width="1.5"/>
<path d="M187.30,297.00 L236.20,297.00 L236.50,280.00 L236.80,267.00 L237.70,265.20 L239.00,266.50 L240.30,268.00 L241.80,265.80 L242.40,268.50 L242.90,279.00 L243.50,282.00 L244.10,274.00 L245.20,255.00 L246.50,238.00 L247.90,227.60 L248.80,238.00 L250.10,245.40 L251.40,256.80 L252.70,263.20 L254.00,266.50 L255.20,268.30 L256.20,270.50 L256.50,280.00 L256.60,297.00 L270.00,297.00 L272.80,289.00 L275.00,295.00 L277.50,296.00 L280.50,289.00 L283.00,296.50 L298.00,297.00 L300.80,292.00 L302.60,295.00 L304.60,291.00 L307.00,297.00 L344.00,297.00" fill="none" stroke="#a31010" stroke-width="2" stroke-dasharray="2.1,1.9"/>
</g>
<path d="M42.92,297.2v-3.2M42.92,192.1v3.2M58.40,297.2v-2M58.40,192.1v2M73.88,297.2v-3.2M73.88,192.1v3.2M89.36,297.2v-2M89.36,192.1v2M104.84,297.2v-3.2M104.84,192.1v3.2M120.32,297.2v-2M120.32,192.1v2M135.80,297.2v-3.2M135.80,192.1v3.2M151.28,297.2v-2M151.28,192.1v2M166.76,297.2v-3.2M166.76,192.1v3.2M182.24,297.2v-2M182.24,192.1v2M32.5,297.00h3.2M187.3,297.00h-3.2M32.5,289.54h2M187.3,289.54h-2M32.5,282.08h3.2M187.3,282.08h-3.2M32.5,274.62h2M187.3,274.62h-2M32.5,267.16h3.2M187.3,267.16h-3.2M32.5,259.70h2M187.3,259.70h-2M32.5,252.24h3.2M187.3,252.24h-3.2M32.5,244.78h2M187.3,244.78h-2M32.5,237.32h3.2M187.3,237.32h-3.2M32.5,229.86h2M187.3,229.86h-2M32.5,222.40h3.2M187.3,222.40h-3.2M32.5,214.94h2M187.3,214.94h-2M32.5,207.48h3.2M187.3,207.48h-3.2M32.5,200.02h2M187.3,200.02h-2" stroke="#5a5a5a" stroke-width="0.9" fill="none"/>
<rect x="32.5" y="192.1" width="154.8" height="105.1" fill="none" stroke="#555" stroke-width="1.3"/>
<text x="43.22" y="307.9" font-size="11" letter-spacing="-0.6" text-anchor="middle" fill="#111">-9</text>
<text x="74.18" y="307.9" font-size="11" letter-spacing="-0.6" text-anchor="middle" fill="#111">-6</text>
<text x="105.14" y="307.9" font-size="11" letter-spacing="-0.6" text-anchor="middle" fill="#111">-3</text>
<text x="135.80" y="307.9" font-size="11" letter-spacing="-0.6" text-anchor="middle" fill="#111">0</text>
<text x="166.76" y="307.9" font-size="11" letter-spacing="-0.6" text-anchor="middle" fill="#111">3</text>
<path d="M199.43,297.2v-3.2M199.43,192.1v3.2M214.92,297.2v-2M214.92,192.1v2M230.42,297.2v-3.2M230.42,192.1v3.2M245.91,297.2v-2M245.91,192.1v2M261.41,297.2v-3.2M261.41,192.1v3.2M276.90,297.2v-2M276.90,192.1v2M292.40,297.2v-3.2M292.40,192.1v3.2M307.89,297.2v-2M307.89,192.1v2M323.39,297.2v-3.2M323.39,192.1v3.2M338.88,297.2v-2M338.88,192.1v2M187.3,297.00h3.2M344.0,297.00h-3.2M187.3,289.54h2M344.0,289.54h-2M187.3,282.08h3.2M344.0,282.08h-3.2M187.3,274.62h2M344.0,274.62h-2M187.3,267.16h3.2M344.0,267.16h-3.2M187.3,259.70h2M344.0,259.70h-2M187.3,252.24h3.2M344.0,252.24h-3.2M187.3,244.78h2M344.0,244.78h-2M187.3,237.32h3.2M344.0,237.32h-3.2M187.3,229.86h2M344.0,229.86h-2M187.3,222.40h3.2M344.0,222.40h-3.2M187.3,214.94h2M344.0,214.94h-2M187.3,207.48h3.2M344.0,207.48h-3.2M187.3,200.02h2M344.0,200.02h-2" stroke="#5a5a5a" stroke-width="0.9" fill="none"/>
<rect x="187.3" y="192.1" width="156.7" height="105.1" fill="none" stroke="#555" stroke-width="1.3"/>
<text x="200.63" y="307.9" font-size="11" letter-spacing="-0.6" text-anchor="middle" fill="#111">-9</text>
<text x="231.62" y="307.9" font-size="11" letter-spacing="-0.6" text-anchor="middle" fill="#111">-6</text>
<text x="262.61" y="307.9" font-size="11" letter-spacing="-0.6" text-anchor="middle" fill="#111">-3</text>
<text x="292.90" y="307.9" font-size="11" letter-spacing="-0.6" text-anchor="middle" fill="#111">0</text>
<text x="323.89" y="307.9" font-size="11" letter-spacing="-0.6" text-anchor="middle" fill="#111">3</text>
<text x="28.3" y="299.00" font-size="11" text-anchor="end" fill="#111">0</text>
<text x="28.3" y="284.08" font-size="11" text-anchor="end" fill="#111">0.2</text>
<text x="28.3" y="269.16" font-size="11" text-anchor="end" fill="#111">0.4</text>
<text x="28.3" y="254.24" font-size="11" text-anchor="end" fill="#111">0.6</text>
<text x="28.3" y="239.32" font-size="11" text-anchor="end" fill="#111">0.8</text>
<text x="28.3" y="224.40" font-size="11" text-anchor="end" fill="#111">1.0</text>
<text x="28.3" y="209.48" font-size="11" text-anchor="end" fill="#111">1.2</text>
<text transform="translate(12.2,239.5) rotate(-90) scale(0.93,1)" font-size="14.5" text-anchor="middle" fill="#111">A(<tspan font-style="italic">&#969;</tspan>)</text>
<text x="108.9" y="315.2" font-size="14" font-style="italic" text-anchor="middle" fill="#111">&#969;</text>
<text x="264.4" y="315.2" font-size="14" font-style="italic" text-anchor="middle" fill="#111">&#969;</text>
<text x="36.8" y="204.6" font-size="12.6" fill="#111">(b)</text>
<text x="192.8" y="204.6" font-size="12.6" fill="#111">(c)</text>
<line x1="155.6" y1="202.5" x2="169.6" y2="202.5" stroke="#000" stroke-width="1.6"/>
<line x1="155.6" y1="212.2" x2="169.6" y2="212.2" stroke="#a31010" stroke-width="2" stroke-dasharray="2.1,1.9"/>
<text x="172.8" y="204.7" font-size="11" fill="#111">d</text>
<text x="172.8" y="213.9" font-size="11" fill="#111">p</text>
<line x1="316.2" y1="202.5" x2="330.2" y2="202.5" stroke="#000" stroke-width="1.6"/>
<line x1="316.2" y1="212.2" x2="330.2" y2="212.2" stroke="#a31010" stroke-width="2" stroke-dasharray="2.1,1.9"/>
<text x="333.8" y="204.7" font-size="11" fill="#111">d</text>
<text x="333.8" y="213.9" font-size="11" fill="#111">p</text>
<line x1="58.2" y1="216.4" x2="149.6" y2="216.4" stroke="#111" stroke-width="0.9"/><path d="M58.2,216.4 l5,-2 l-1.2,2 l1.2,2 Z" fill="#111"/><path d="M149.6,216.4 l-5,-2 l1.2,2 l-1.2,2 Z" fill="#111"/>
<text x="104.8" y="214.3" font-size="13.7" text-anchor="middle" fill="#111">U</text>
<line x1="130" y1="267" x2="145.5" y2="267" stroke="#111" stroke-width="0.9"/><path d="M130,267 l5,-2 l-1.2,2 l1.2,2 Z" fill="#111"/><path d="M145.5,267 l-5,-2 l1.2,2 l-1.2,2 Z" fill="#111"/>
<text transform="translate(137.85,262.7) scale(1.3,1)" font-size="11.3" text-anchor="middle" fill="#111">&#916;</text>
<line x1="247.5" y1="216.3" x2="302.7" y2="216.3" stroke="#111" stroke-width="0.9"/><path d="M247.5,216.3 l5,-2 l-1.2,2 l1.2,2 Z" fill="#111"/><path d="M302.7,216.3 l-5,-2 l1.2,2 l-1.2,2 Z" fill="#111"/>
<text transform="translate(275.2,213.5) scale(1.3,1)" font-size="11.3" text-anchor="middle" fill="#111">&#916;</text>
<line x1="282.5" y1="265.8" x2="298.5" y2="265.8" stroke="#111" stroke-width="0.9"/><path d="M282.5,265.8 l5,-2 l-1.2,2 l1.2,2 Z" fill="#111"/><path d="M298.5,265.8 l-5,-2 l1.2,2 l-1.2,2 Z" fill="#111"/>
<text x="290.8" y="264.5" font-size="13.7" text-anchor="middle" fill="#111">U</text>
</svg></body></html>
